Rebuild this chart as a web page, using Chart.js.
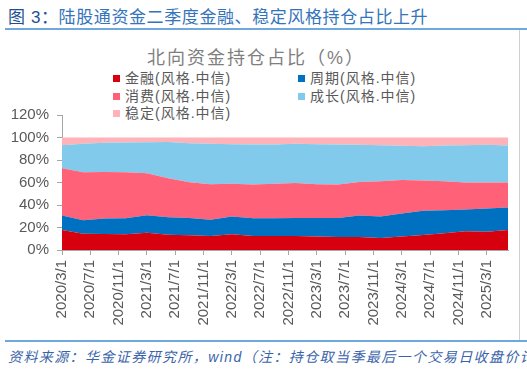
<!DOCTYPE html>
<html>
<head>
<meta charset="utf-8">
<script src="https://cdn.jsdelivr.net/npm/chart.js@4.4.0/dist/chart.umd.min.js"></script>
<style>
  body { margin: 0; width: 527px; height: 370px; background: #fff; position: relative; overflow: hidden;
         font-family: "Liberation Sans", "Noto Sans CJK SC", sans-serif; }
  .titulo { position: absolute; left: 8px; top: 3px; font-size: 17px; color: #3474bb; letter-spacing: 0.6px; white-space: nowrap; }
  .titulo b { color: #1d4f91; font-weight: normal; }
  .linea-top { position: absolute; left: 5px; right: 0; top: 28px; height: 2px; background: #6fa8dc; }
  .borde-der { position: absolute; left: 519px; top: 30px; width: 1px; height: 311px; background: #d0d0d0; }
  .linea-bot { position: absolute; left: 5px; right: 0; top: 340px; height: 2px; background: #6fa8dc; }
  .fuente { position: absolute; left: 8px; top: 346px; font-size: 14px; font-style: italic; color: #3a64a8; white-space: nowrap; letter-spacing: 1.4px; }
  .chart-titulo { position: absolute; left: 15px; width: 482px; top: 43px; text-align: center; font-size: 18px; color: #7f7f7f; letter-spacing: 2px; }
  .leyenda { position: absolute; font-size: 14px; color: #595959; letter-spacing: 1px; white-space: nowrap; }
  .leyenda span.caja { display: inline-block; width: 7px; height: 7px; margin-right: 5px; vertical-align: 1px; }
  #wrap { position: absolute; left: 0; top: 95px; width: 527px; height: 245px; }
</style>
</head>
<body>
<div class="titulo"><b>图 3：</b>陆股通资金二季度金融、稳定风格持仓占比上升</div>
<div class="linea-top"></div>
<div class="borde-der"></div>
<div class="chart-titulo">北向资金持仓占比（%）</div>
<div id="leyenda"></div>
<div id="wrap"><canvas id="estiloChart"></canvas></div>
<div class="linea-bot"></div>
<div class="fuente">资料来源：华金证券研究所，wind（注：持仓取当季最后一个交易日收盘价计</div>

<script>
// Fechas de cada trimestre (año/mes)
const trimestres = ['2020/3', '2020/6', '2020/9', '2020/12', '2021/3', '2021/6', '2021/9', '2021/12',
    '2022/3', '2022/6', '2022/9', '2022/12', '2023/3', '2023/6', '2023/9', '2023/12',
    '2024/3', '2024/6', '2024/9', '2024/12', '2025/3', '2025/6'];

// Participación (%) por estilo
const jinrong = [17.8, 14.5, 14.2, 14.0, 15.4, 13.6, 13.1, 12.5, 14.0, 12.5, 12.5, 12.5, 11.9, 11.6, 11.6, 10.7, 11.9, 13.4, 14.8, 16.6, 16.3, 17.8];
const zhouqi = [12.8, 11.9, 13.7, 14.2, 15.5, 15.5, 15.4, 14.5, 15.7, 15.7, 15.7, 16.0, 16.6, 16.9, 19.0, 19.0, 20.5, 21.6, 20.5, 19.3, 20.5, 20.0];
const xiaofei = [42.1, 42.7, 41.5, 40.9, 37.3, 34.7, 31.7, 31.5, 29.1, 30.0, 30.6, 31.1, 30.0, 29.7, 29.9, 31.4, 29.9, 26.7, 25.8, 24.0, 23.1, 22.2];
const chengzhang = [20.5, 25.3, 25.9, 26.4, 27.6, 32.3, 34.8, 35.9, 35.2, 35.6, 35.0, 34.8, 35.5, 35.6, 33.0, 32.1, 30.3, 30.6, 31.8, 33.3, 33.6, 33.0];
const wending = [6.8, 5.6, 4.7, 4.5, 4.2, 3.9, 5.0, 5.6, 6.0, 6.2, 6.2, 5.6, 6.0, 6.2, 6.5, 6.8, 7.4, 7.7, 7.1, 6.8, 6.5, 7.0];

const yTicks = [0, 20, 40, 60, 80, 100, 120];

const nombres = ['金融(风格.中信)', '周期(风格.中信)', '消费(风格.中信)', '成长(风格.中信)', '稳定(风格.中信)'];
const colores = ['#d6000f', '#0070c0', '#ff6178', '#82caeb', '#ffb2b7'];
const series = [jinrong, zhouqi, xiaofei, chengzhang, wending];

// mes desde 2020/3
const meses = trimestres.map(t => {
    const [a, m] = t.split('/').map(Number);
    return (a - 2020) * 12 + (m - 3);
});

function etiquetaMes(v) {
    const a = 2020 + Math.floor((v + 2) / 12);
    const m = (v + 2) % 12 + 1;
    return a + '/' + m + '/1';
}

// Leyenda en HTML (dos columnas)
const leyendaDiv = document.getElementById('leyenda');
const posLeyenda = [[113, 67], [298, 67], [113, 85], [298, 85], [113, 102]];
nombres.forEach((n, i) => {
    const item = document.createElement('div');
    item.className = 'leyenda';
    item.style.left = posLeyenda[i][0] + 'px';
    item.style.top = posLeyenda[i][1] + 'px';
    item.innerHTML = `<span class="caja" style="background:${colores[i]}"></span>${n}`;
    leyendaDiv.appendChild(item);
});

const ctx = document.getElementById('estiloChart').getContext('2d');
const estiloChart = new Chart(ctx, {
    type: 'line',
    data: {
        datasets: series.map((s, i) => ({
            label: nombres[i],
            data: s.map((v, j) => ({ x: meses[j], y: v })),
            backgroundColor: colores[i],
            borderColor: colores[i],
            borderWidth: 0,
            pointRadius: 0,
            tension: 0,
            fill: i === 0 ? 'origin' : '-1'
        }))
    },
    options: {
        responsive: true,
        maintainAspectRatio: false,
        animation: false,
        layout: { padding: { left: 0, right: 19, top: 20, bottom: 0 } },
        plugins: {
            legend: { display: false },
            tooltip: { enabled: false }
        },
        scales: {
            x: {
                type: 'linear',
                min: 0,
                max: 63,
                grid: { drawOnChartArea: false, drawTicks: true, tickLength: 5, color: '#a6a6a6' },
                border: { color: '#a6a6a6' },
                ticks: {
                    stepSize: 4,
                    includeBounds: false,
                    autoSkip: false,
                    maxRotation: 90,
                    minRotation: 90,
                    padding: 5,
                    color: '#595959',
                    font: { size: 15, family: '"Liberation Sans", Arial, sans-serif' },
                    callback: v => etiquetaMes(v)
                },
                afterFit: s => { s.height = 90; }
            },
            y: {
                stacked: true,
                min: 0,
                max: 120,
                afterBuildTicks: s => { s.ticks = yTicks.map(v => ({ value: v })); },
                grid: { drawOnChartArea: false, drawTicks: true, tickLength: 5, color: '#a6a6a6' },
                border: { color: '#a6a6a6' },
                ticks: {
                    padding: 8,
                    color: '#595959',
                    font: { size: 15, family: '"Liberation Sans", Arial, sans-serif' },
                    callback: v => v + '%'
                },
                afterFit: s => { s.width = 62; }
            }
        }
    }
});
</script>
</body>
</html>
